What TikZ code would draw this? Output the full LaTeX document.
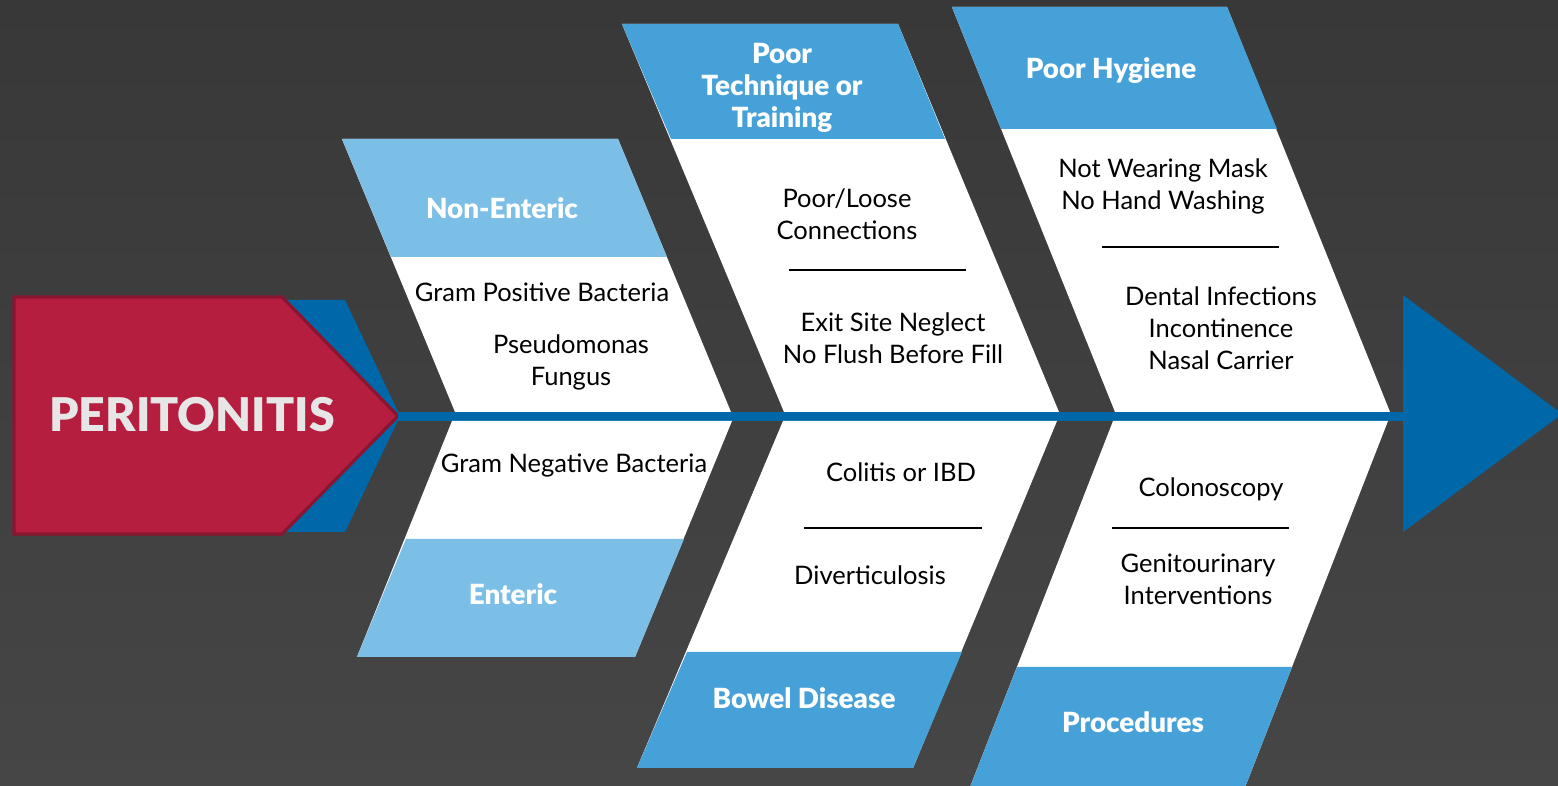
\documentclass[tikz,border=0pt]{standalone}
\usepackage{fontspec}
\setmainfont{Lato}
\newfontfamily\heavyfont{Lato Black}
\usetikzlibrary{positioning}

\definecolor{bgdark}{HTML}{383838}
\definecolor{bglight}{HTML}{464646}
\definecolor{perired}{HTML}{B61E40}
\definecolor{periedge}{HTML}{8A1530}
\definecolor{spineblue}{HTML}{0068A8}
\definecolor{paleblue}{HTML}{7BBEE6}
\definecolor{midblue}{HTML}{45A1D8}
\definecolor{periwhite}{HTML}{E6E6E6}

\tikzset{
  bone/.style={fill=white},
  paletop/.style={fill=paleblue},
  midtop/.style={fill=midblue},
  head/.style={text=white,font=\fontsize{7.9}{9.1}\selectfont\heavyfont,align=center,inner sep=0pt},
  cause/.style={text=black,font=\fontsize{7.25}{9.1}\selectfont,align=center,inner sep=0pt},
  rule/.style={line width=0.6pt}
}

\begin{document}
\begin{tikzpicture}[x=0.01cm,y=-0.01cm]
\useasboundingbox (0,0) rectangle (1558,786);
\clip (0,0) rectangle (1558,786);
\shade[top color=bgdark,bottom color=bglight] (0,0) rectangle (1558,786);

\fill[spineblue] (285,300)--(345,300)--(400,416)--(345,532)--(285,532)--cycle;
\draw[fill=perired,draw=periedge,line width=0.9pt] (14,297)--(282,297)--(398,416)--(282,534)--(14,534)--cycle;
\node[text=periwhite,font=\fontsize{13.2}{15}\selectfont\heavyfont] (peri) at (192,415) {PERITONITIS};

\fill[spineblue] (1403,295)--(1403,532)--(1562,414)--cycle;
\coordinate (tail) at (398,416.5);
\coordinate (tip) at (1405,416.5);
\draw[spineblue,line width=0.09cm] (tail)--(tip);

\fill[bone] (342,139)--(618,139)--(731,412)--(455,412)--cycle;
\fill[paletop] (342,139)--(618,139)--(667,257)--(391,257)--cycle;
\fill[bone] (452,421)--(732,421)--(635,657)--(357,657)--cycle;
\fill[paletop] (406,539)--(684,539)--(635,657)--(357,657)--cycle;

\fill[bone] (622,24)--(898,24)--(1059,412)--(784,412)--cycle;
\fill[midtop] (622,24)--(898,24)--(945,139)--(671,139)--cycle;
\fill[bone] (783,421)--(1057,421)--(913,768)--(637,768)--cycle;
\fill[midtop] (687,652)--(962,652)--(913,768)--(637,768)--cycle;

\fill[bone] (952,7)--(1227,7)--(1390,412)--(1115,412)--cycle;
\fill[midtop] (952,7)--(1227,7)--(1277,129)--(1001,129)--cycle;
\fill[bone] (1113,421)--(1388,421)--(1240,800)--(965,800)--cycle;
\fill[midtop] (1017,667)--(1292,667)--(1240,800)--(965,800)--cycle;

\node[head] (nonent) at (502,208) {Non-Enteric};
\node[cause] (gpos) at (542,292) {Gram Positive Bacteria};
\node[cause] (pseudo) at (571,362) {Pseudomonas\\Fungus};
\node[cause] (gneg) at (574,465) {Gram Negative Bacteria};
\node[head] (ent) at (513,594) {Enteric};

\node[head] (tech) at (782,88) {Poor\\Technique or\\Training};
\node[cause] (loose) at (847,214) {Poor/Loose\\Connections};
\draw[rule] (789,270)--(966,270);
\node[cause] (exit) at (893,338) {Exit Site Neglect\\No Flush Before Fill};
\node[cause] (colitis) at (901,472) {Colitis or IBD};
\draw[rule] (804,528)--(982,528);
\node[cause] (divert) at (870,575) {Diverticulosis};
\node[head] (bowel) at (804,698) {Bowel Disease};

\node[head] (hyg) at (1111,71) {Poor Hygiene};
\node[cause] (mask) at (1163,186) {Not Wearing Mask\\No Hand Washing};
\draw[rule] (1102,247)--(1279,247);
\node[cause] (dental) at (1221,328) {Dental Infections\\Incontinence\\Nasal Carrier};
\node[cause] (colon) at (1211,489) {Colonoscopy};
\draw[rule] (1112,528)--(1289,528);
\node[cause] (genito) at (1198,579) {Genitourinary\\Interventions};
\node[head] (proc) at (1133,722) {Procedures};
\end{tikzpicture}
\end{document}
